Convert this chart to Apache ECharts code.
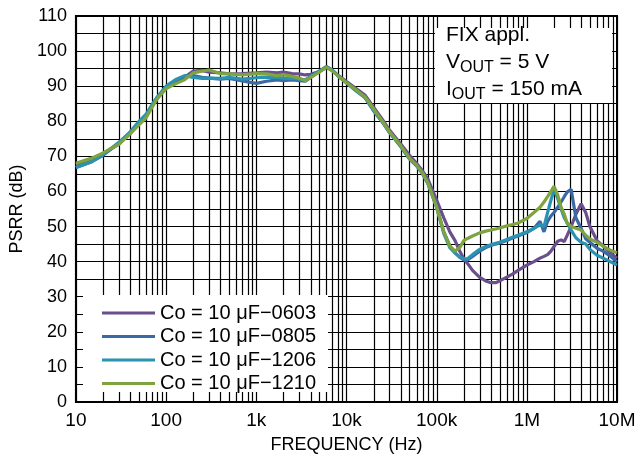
<!DOCTYPE html>
<html>
<head>
<meta charset="utf-8">
<script src="https://cdn.jsdelivr.net/npm/echarts@6/dist/echarts.min.js"></script>
<style>
  html, body { margin: 0; padding: 0; background: #fff; }
  #chart { width: 642px; height: 464px; }
</style>
</head>
<body>
<div id="chart"></div>
<script>
// frequency points (Hz), shared by all four curves
var freq = [10, 15, 20, 30, 40, 50, 60, 70, 80, 100, 130, 160, 200, 250, 300, 400, 500, 700,
  1000, 1300, 1700, 2000, 2500, 3000, 3500, 4000, 5000, 6000, 7000, 8000,
  10000, 13000, 16000, 20000, 25000, 30000, 40000, 50000,
  60000, 70000, 80000, 100000, 120000, 140000, 160000, 180000, 200000, 220000, 250000,
  300000, 350000, 400000, 450000, 500000, 600000, 700000, 800000,
  1000000, 1200000, 1400000, 1550000, 1700000, 1850000, 2000000, 2200000, 2400000, 2600000, 2800000,
  3100000, 3500000, 4000000, 4500000, 5000000, 6000000, 7000000, 8000000, 10000000];

var psrr0603 = [67.5, 69, 70.8, 73.5, 76.5, 79.3, 81.5, 84.3, 86.5, 89.5, 91.5, 92.5, 94.3, 94.5, 94, 93.8, 93.5, 93.6,
  93.8, 94, 93.8, 94, 93.6, 93.5, 93.2, 93.4, 94.2, 95.3, 94.5, 93.2,
  91.3, 89.2, 87.5, 84, 80.5, 77.5, 73.5, 70.3,
  68, 65.8, 63.5, 57.5, 52.5, 48.5, 46, 43, 40.8, 39.5, 37.5,
  35.5, 34.5, 34, 34, 34.5, 35.6, 36.5, 37.5,
  39, 40, 41, 41.5, 42, 43, 44.3, 45.8, 46.2, 45.7, 47.5,
  50, 53.5, 56.5, 54, 50, 46, 44.5, 43, 41];

var psrr0805 = [66.8, 68.5, 70.3, 73.8, 76.8, 79.5, 81.5, 84.5, 86.8, 89.8, 91.8, 92.8, 93, 92.5, 92.3, 92, 92.2, 91.5,
  90.8, 91.4, 91.8, 91.6, 91.8, 91.6, 91.4, 92.5, 94.2, 95.6, 94.5, 93,
  91, 88.6, 86.8, 83, 79.8, 76.8, 72.8, 69.3,
  67.3, 65, 62.3, 55.5, 48.5, 44.5, 42.5, 41.3, 40.5, 40.5, 41.5,
  43, 44, 44.6, 45, 45.3, 46, 46.8, 47.3,
  48.3, 49.5, 51.5, 48.5, 51.5, 53, 54, 55.5, 57, 58.5, 59.8,
  60.6, 52.5, 49.5, 46.5, 45.5, 43.8, 43, 42, 40];

var psrr1206 = [66.8, 68.5, 70.5, 74, 77, 80, 82, 84.8, 87, 90, 92, 93, 92.5, 92.2, 92.3, 92.2, 92.5, 92,
  92.4, 92.6, 92.5, 92.3, 92.2, 92, 91.8, 92.8, 94.3, 95.6, 94.5, 93,
  91, 88.5, 86.8, 83, 79.8, 76.8, 72.8, 69.3,
  67.3, 65, 62.3, 55.5, 48, 44, 42.5, 41.3, 40.8, 40.8, 42,
  43.5, 44.3, 44.8, 45.2, 45.5, 46.3, 47, 47.5,
  48.5, 49.5, 50.5, 50, 54, 57.5, 60.5, 58, 55, 52.5, 51,
  49, 46.8, 45.5, 45, 43.5, 41.8, 41, 40.3, 39];

var psrr1210 = [68, 69.5, 71, 73.5, 76.5, 79, 81, 84, 86.5, 89.3, 90.8, 91.8, 93.8, 94.3, 94.6, 93.6, 93.5, 93.2,
  93.6, 93.5, 93, 93.3, 92.8, 92.3, 91.6, 92.5, 94, 95.4, 94.3, 93,
  91, 88.8, 87, 83.5, 80, 77, 73, 69.5,
  67.5, 65.2, 62.5, 55.5, 48.5, 44.5, 43, 44, 46, 46.6, 47.3,
  48.2, 48.7, 49, 49.3, 49.6, 50.2, 50.6, 51,
  52.3, 54, 55.5, 57, 58.5, 60, 61.5, 59, 55.5, 53.5, 51,
  50, 49.5, 49, 47.5, 46.5, 45.5, 44.5, 43.5, 42.5];

var seriesNames = ['Co = 10 \u03bcF\u22120603', 'Co = 10 \u03bcF\u22120805', 'Co = 10 \u03bcF\u22121206', 'Co = 10 \u03bcF\u22121210'];
var seriesColors = ['#6a4f8c', '#3b69a4', '#2b93b2', '#7ea33f'];

// x tick labels per decade
var xTickLabels = { 10: '10', 100: '100', 1000: '1k', 10000: '10k', 100000: '100k', 1000000: '1M', 10000000: '10M' };

// vertical log-paper grid lines: 1..9 x each decade
var gridFreqs = [];
for (var d = 10; d < 1e7; d *= 10) {
  for (var k = 1; k < 10; k++) gridFreqs.push([d * k, 0]);
}
gridFreqs.push([1e7, 0]);

var font = 'Liberation Sans';

function pairs(vals) {
  return freq.map(function (f, i) { return [f, vals[i]]; });
}

var allVals = [psrr0603, psrr0805, psrr1206, psrr1210];

var series = [{
  type: 'custom',
  name: 'grid',
  z: 1,
  silent: true,
  data: gridFreqs,
  renderItem: function (params, api) {
    var p1 = api.coord([api.value(0), 110]);
    var p2 = api.coord([api.value(0), 0]);
    var x = Math.round(p1[0]) + 0.5;
    return {
      type: 'line',
      shape: { x1: x, y1: p1[1], x2: x, y2: p2[1] },
      style: { stroke: '#000', lineWidth: 1.2 }
    };
  }
}];

allVals.forEach(function (vals, i) {
  series.push({
    type: 'line',
    name: seriesNames[i],
    data: pairs(vals),
    showSymbol: false,
    z: 3 + i,
    color: seriesColors[i],
    lineStyle: { width: 3.2, color: seriesColors[i] }
  });
});

var chart = echarts.init(document.getElementById('chart'));
chart.setOption({
  animation: false,
  textStyle: { fontFamily: font, color: '#000' },
  grid: { left: 69, right: 25, top: 16, bottom: 62, show: true, borderColor: '#000', borderWidth: 2, backgroundColor: '#fff' },
  xAxis: {
    type: 'log',
    logBase: 10,
    min: 10,
    max: 1e7,
    interval: 1,
    name: 'FREQUENCY (Hz)',
    nameLocation: 'middle',
    nameGap: 34,
    nameTextStyle: { fontSize: 18, color: '#000', fontFamily: font },
    axisLine: { show: true, lineStyle: { color: '#000', width: 2 } },
    axisTick: { show: false },
    splitLine: { show: false },
    axisLabel: {
      fontSize: 19, color: '#000', margin: 9, fontFamily: font,
      formatter: function (v) { return xTickLabels[Math.round(v)] || ''; }
    }
  },
  yAxis: {
    type: 'value',
    min: 0,
    max: 110,
    interval: 10,
    name: 'PSRR (dB)',
    nameLocation: 'middle',
    nameGap: 40,
    nameTextStyle: { fontSize: 18, color: '#000', fontFamily: font },
    axisLine: { show: true, lineStyle: { color: '#000', width: 2 } },
    axisTick: { show: false },
    axisLabel: { fontSize: 18, color: '#000', margin: 9, fontFamily: font },
    splitLine: { show: true, lineStyle: { color: '#000', width: 1.2 } },
    minorTick: { show: false, splitNumber: 2 },
    minorSplitLine: { show: true, lineStyle: { color: '#000', width: 1.2 } }
  },
  legend: {
    orient: 'vertical',
    left: 97,
    top: 298,
    itemWidth: 53,
    itemHeight: 3,
    itemGap: 3.5,
    icon: 'rect',
    z: 120,
    data: seriesNames,
    textStyle: { fontSize: 20, color: '#000', fontFamily: font }
  },
  graphic: [
    { type: 'rect', z: 100, shape: { x: 83, y: 295, width: 245, height: 97 }, style: { fill: '#fff' } },
    { type: 'rect', z: 100, shape: { x: 435, y: 28, width: 177, height: 75 }, style: { fill: '#fff' } },
    {
      type: 'text', z: 101, left: 446, top: 25,
      style: {
        text: '{n|FIX appl.}\n{n|V}{s|OUT}{n| = 5 V}\n{n|I}{s|OUT}{n| = 150 mA}',
        fill: '#000',
        rich: {
          n: { fontSize: 21, fontFamily: font, lineHeight: 27, fill: '#000' },
          s: { fontSize: 16, fontFamily: font, lineHeight: 27, padding: [10, 0, 0, 0], fill: '#000' }
        }
      }
    }
  ],
  series: series
});
</script>
</body>
</html>
